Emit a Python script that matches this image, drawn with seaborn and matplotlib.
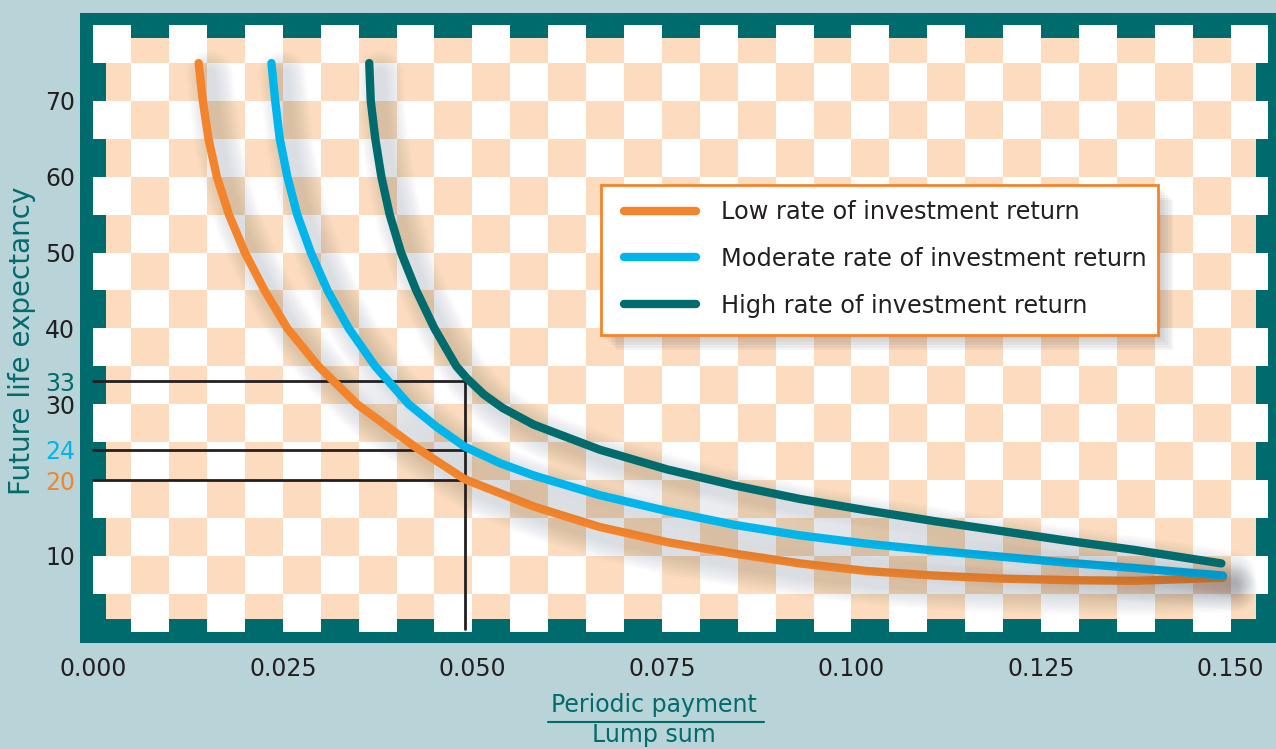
import matplotlib
matplotlib.use("Agg")
import matplotlib.pyplot as plt
import matplotlib.patheffects as pe
from matplotlib.patches import Rectangle
from matplotlib.lines import Line2D
from matplotlib.colors import ListedColormap
import seaborn as sns
import pandas as pd
import numpy as np

sns.set_theme(style="white")
plt.rcParams['font.family'] = ['DejaVu Sans']

# colours
BG = "#B8D4D8"
TEAL = "#006B6D"
PEACH = "#FCDBBE"
ORANGE = "#F4842B"
BLUE = "#00B5E9"
INK = "#231F20"

series_names = ["Low rate of investment return",
                "Moderate rate of investment return",
                "High rate of investment return"]
line_colors = [ORANGE, BLUE, TEAL]

# values (x = periodic payment / lump sum, y = years)
low_x = [0.0139, 0.01445, 0.0152, 0.0163, 0.0179, 0.0200, 0.0226, 0.0256, 0.0297,
         0.0348, 0.0424, 0.0490, 0.0581, 0.0668, 0.0757, 0.0845, 0.0932, 0.1020,
         0.1108, 0.1196, 0.1284, 0.1372, 0.1490]
low_y = [75, 70, 65, 60, 55, 50, 45, 40, 35,
         30, 24.4, 20.1, 16.5, 13.8, 11.8, 10.3, 9.0, 8.0,
         7.4, 7.0, 6.8, 6.7, 7.1]

mod_x = [0.0235, 0.0240, 0.0246, 0.0256, 0.0269, 0.0287, 0.0309, 0.0337, 0.0372,
         0.0416, 0.0453, 0.0490, 0.0537, 0.0581, 0.0668, 0.0757, 0.0845, 0.0932,
         0.1020, 0.1108, 0.1196, 0.1284, 0.1372, 0.1490]
mod_y = [75, 70, 65, 60, 55, 50, 45, 40, 35,
         30, 27, 24.4, 22.2, 20.6, 18.0, 15.9, 14.1, 12.7,
         11.6, 10.7, 9.9, 9.1, 8.4, 7.4]

high_x = [0.0364, 0.0366, 0.0372, 0.0380, 0.0391, 0.0406, 0.0426, 0.0450, 0.0479,
          0.0493, 0.0515, 0.0540, 0.0581, 0.0668, 0.0757, 0.0845, 0.0932, 0.1020,
          0.1108, 0.1196, 0.1284, 0.1372, 0.1488]
high_y = [75, 70, 65, 60, 55, 50, 45, 40, 35,
          33.4, 31.3, 29.5, 27.3, 24.0, 21.4, 19.3, 17.5, 16.0,
          14.6, 13.3, 12.0, 10.8, 9.0]

# guide lines: example payment ratio and the matching life expectancies
guide_x = 0.049
guide_y = [33, 24, 20]

x_ticks = [0.0, 0.025, 0.05, 0.075, 0.1, 0.125, 0.15]
y_ticks = [10, 20, 24, 30, 33, 40, 50, 60, 70]
y_tick_colors = {33: TEAL, 24: BLUE, 20: ORANGE}

df = pd.concat([
    pd.DataFrame({"ratio": low_x, "years": low_y, "rate": series_names[0]}),
    pd.DataFrame({"ratio": mod_x, "years": mod_y, "rate": series_names[1]}),
    pd.DataFrame({"ratio": high_x, "years": high_y, "rate": series_names[2]}),
], ignore_index=True)

fig = plt.figure(figsize=(12.76, 7.49), dpi=100, facecolor=BG)
ax = fig.add_axes([0.0627, 0.1415, 0.9373, 0.8411])
ax.set_facecolor(TEAL)
for s in ax.spines.values():
    s.set_visible(False)

# checkerboard background
cell = (0.005, 5)
ax.add_patch(Rectangle((cell[0] / 3, cell[1] / 3), 0.155 - 2 * cell[0] / 3, 80 - 2 * cell[1] / 3,
                       facecolor=PEACH, edgecolor="none", zorder=0.5))
xe = np.arange(0, 0.155 + 1e-9, cell[0])
ye = np.arange(0, 80 + 1e-9, cell[1])
I, J = np.meshgrid(np.arange(len(xe) - 1), np.arange(len(ye) - 1))
Z = np.ma.masked_where((I + J) % 2 == 0, np.ones(I.shape))
ax.pcolormesh(xe, ye, Z, cmap=ListedColormap(["white"]), shading="flat",
              edgecolor="none", antialiased=False, zorder=0.6)

# guide lines
for gy in guide_y:
    ax.plot([0, guide_x], [gy, gy], color=INK, lw=2, zorder=2)
ax.plot([guide_x, guide_x], [0.3, max(guide_y)], color=INK, lw=2, zorder=2)

# soft drop shadow: many faint, widening strokes
shadow = [pe.SimpleLineShadow(offset=(8, -8), shadow_color="#3c4550", alpha=0.012, linewidth=w)
          for w in range(8, 36, 2)] + [pe.Normal()]

sns.lineplot(data=df, x="ratio", y="years", hue="rate", hue_order=series_names,
             palette=dict(zip(series_names, line_colors)), lw=6, solid_capstyle="round",
             solid_joinstyle="round", path_effects=shadow, legend=False, errorbar=None,
             ax=ax, zorder=3)

ax.set_xlim(-0.00175, 0.1560)
ax.set_ylim(-1.5, 81.6)
ax.set_xticks(x_ticks)
ax.set_xticklabels([f"{v:.3f}" for v in x_ticks])
ax.set_yticks(y_ticks)
ax.set_yticklabels([str(v) for v in y_ticks])
ax.tick_params(axis="x", length=3, width=1, color=TEAL, pad=7, labelsize=17, labelcolor=INK)
ax.tick_params(axis="y", length=0, pad=3.5, labelsize=17, labelcolor=INK)
for lab, v in zip(ax.get_yticklabels(), y_ticks):
    lab.set_color(y_tick_colors.get(v, INK))
ax.set_xlabel("")
ax.set_ylabel("")
ax.grid(False)

# legend box with a soft shadow
W, H = 1276, 749
frame = Rectangle((601 / W, 1 - 335 / H), (1158 - 601) / W, 150 / H, transform=fig.transFigure,
                  facecolor="white", edgecolor=ORANGE, lw=2, zorder=9, clip_on=False,
                  path_effects=[pe.SimplePatchShadow(offset=(o, -o), shadow_rgbFace="#333a44", alpha=0.05)
                                for o in (11, 9, 7, 5, 3)] + [pe.Normal()])
ax.add_patch(frame)
handles = [Line2D([0], [0], color=c, lw=6, solid_capstyle="round") for c in line_colors]
leg = ax.legend(handles, series_names, loc="upper left", bbox_to_anchor=(624 / W, 1 - 200 / H),
                bbox_transform=fig.transFigure, frameon=False, fontsize=17.3, borderpad=0,
                borderaxespad=0, labelspacing=0.95, handlelength=3.0, handletextpad=1.05)
leg.set_zorder(10)
for t in leg.get_texts():
    t.set_color(INK)

# axis titles
fig.text(0.0175, 0.545, "Future life expectancy", rotation=90, ha="center", va="center",
         color=TEAL, fontsize=20)
fig.text(654 / W, 1 - 712 / H, "Periodic payment", ha="center", va="baseline", color=TEAL, fontsize=17)
fig.add_artist(Line2D([548 / W, 764 / W], [1 - 722 / H, 1 - 722 / H], transform=fig.transFigure,
                      color=TEAL, lw=1.5))
fig.text(654 / W, 1 - 742 / H, "Lump sum", ha="center", va="baseline", color=TEAL, fontsize=17)

fig.savefig("out.png", dpi=100, facecolor=BG)
